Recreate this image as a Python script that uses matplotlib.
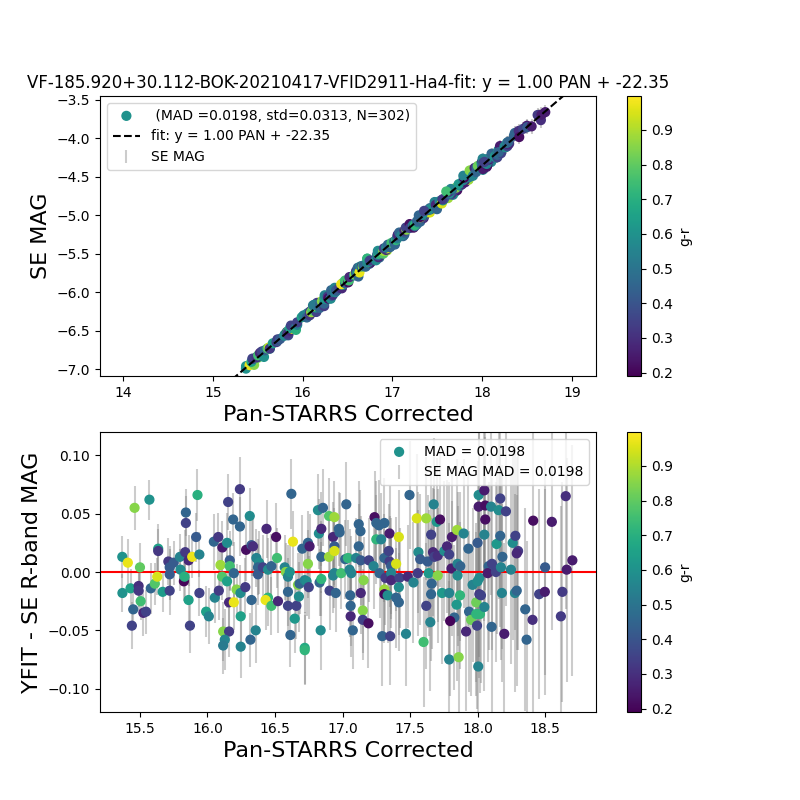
import numpy as np
import matplotlib
matplotlib.use('Agg')
import matplotlib.pyplot as plt

# Pan-STARRS corrected magnitudes (x)
pan = [
    15.369, 15.370, 15.410, 15.460, 15.430, 15.450, 15.440, 15.500, 15.490, 15.490,
    15.505, 15.525, 15.545, 15.570, 15.580, 15.610, 15.628, 15.635, 15.635, 15.668,
    15.710, 15.720, 15.720, 15.720, 15.750, 15.796, 15.800, 15.825, 15.830, 15.840,
    15.840, 15.835, 15.860, 15.887, 15.860, 15.870, 15.916, 15.926, 15.940, 15.940,
    15.990, 16.010,
    16.054, 16.047, 16.080, 16.110, 16.084, 16.096, 16.108, 16.145, 16.153, 16.165,
    16.165, 16.145, 16.160, 16.195, 16.116, 16.160, 16.128, 16.116, 16.190, 16.195,
    16.215, 16.240, 16.240, 16.244, 16.246, 16.246, 16.280, 16.286, 16.313, 16.326,
    16.337, 16.326, 16.318, 16.357, 16.362, 16.382, 16.374, 16.374, 16.410, 16.437,
    16.448, 16.448, 16.430, 16.473, 16.473, 16.508, 16.515, 16.522, 16.572, 16.580,
    16.596, 16.596, 16.596, 16.609, 16.621, 16.614, 16.633, 16.646, 16.658, 16.670,
    16.677, 16.682, 16.702, 16.720, 16.720, 16.720, 16.744, 16.744, 16.756, 16.734,
    16.750,
    16.818, 16.855, 16.825, 16.843, 16.843, 16.830, 16.843, 16.838, 16.900, 16.940,
    16.900, 16.930, 16.940, 16.940, 16.904, 16.930, 16.940, 16.950, 16.973, 16.978,
    16.990, 17.028, 17.020, 17.040, 17.052, 17.065, 17.057, 17.060, 17.060, 17.076,
    17.120, 17.133, 17.120, 17.100, 17.135, 17.135, 17.156, 17.150, 17.150, 17.192,
    17.195, 17.230, 17.237, 17.250, 17.270, 17.250, 17.286, 17.310, 17.348, 17.417,
    17.310, 17.342, 17.348, 17.360, 17.274, 17.318, 17.360, 17.360, 17.397, 17.422,
    17.310, 17.310, 17.334, 17.397, 17.417, 17.417, 17.294, 17.353, 17.470, 17.483,
    17.496,
    17.525, 17.550, 17.620, 17.675, 17.698, 17.722, 17.656, 17.562, 17.575, 17.557,
    17.630, 17.670, 17.680, 17.705, 17.638, 17.705, 17.660, 17.656, 17.620, 17.650,
    17.600, 17.754, 17.774, 17.790, 17.810, 17.848, 17.807, 17.852, 17.852, 17.872,
    17.737, 17.790, 17.870, 17.845, 17.828, 17.797, 17.790, 17.860, 17.897, 17.915,
    17.932, 17.937, 17.963, 17.990, 17.952, 17.990, 18.018, 17.996, 18.005, 18.000,
    18.013, 18.013, 18.000, 18.008, 18.008, 18.050, 18.057, 18.100, 18.057, 18.050,
    18.082, 18.075, 18.107, 18.136, 18.050, 18.025, 18.104, 18.141, 18.156, 18.168,
    18.168, 18.180, 18.173, 18.198, 18.210,
    18.184, 18.247, 18.260, 18.280, 18.300, 18.290, 18.277, 18.290, 18.353, 18.363,
    18.407, 18.412, 18.456, 18.498, 18.500, 18.550, 18.617, 18.628, 18.653, 18.660,
    18.702,
]

# YFIT - SE residuals
resid = [
    0.013, -0.018, 0.008, 0.055, -0.014, -0.032, -0.046, 0.004, -0.012, -0.016,
    -0.025, -0.035, -0.034, 0.062, -0.014, -0.010, -0.004, 0.020, 0.018, -0.017,
    0.009, 0.004, -0.002, -0.016, 0.008, 0.013, 0.002, -0.008, -0.004, 0.051,
    0.042, 0.017, 0.010, 0.013, -0.024, -0.046, 0.030, 0.066, 0.015, -0.018,
    -0.034, -0.038,
    -0.022, 0.026, 0.030, 0.021, -0.016, 0.006, -0.004, 0.025, 0.060, 0.010,
    0.005, -0.008, -0.026, -0.026, -0.051, -0.051, -0.058, -0.063, 0.045, -0.001,
    -0.015, 0.071, 0.039, -0.018, -0.038, -0.064, -0.013, 0.019, 0.048, 0.023,
    0.022, -0.024, -0.058, -0.050, 0.012, 0.008, 0.004, -0.002, 0.004, 0.037,
    0.002, -0.022, -0.024, 0.005, -0.029, 0.030, 0.012, -0.025, 0.004, 0.000,
    -0.004, -0.017, -0.029, 0.000, 0.067, -0.054, 0.026, -0.040, -0.029, -0.011,
    -0.021, -0.010, 0.020, -0.007, -0.065, -0.067, 0.025, 0.007, 0.022, -0.008,
    -0.013,
    0.053, 0.055, 0.033, 0.037, 0.013, -0.009, -0.006, -0.050, 0.048, 0.047,
    0.013, 0.030, 0.022, 0.018, -0.016, -0.003, -0.001, -0.018, 0.037, 0.034,
    -0.001, 0.058, 0.011, 0.012, 0.002, -0.001, -0.020, -0.029, -0.038, -0.050,
    0.041, 0.035, 0.022, 0.012, 0.010, -0.018, -0.007, -0.033, -0.041, -0.044,
    0.010, 0.005, 0.047, 0.042, 0.040, 0.028, 0.028, 0.042, 0.033, 0.030,
    0.012, 0.018, 0.009, 0.005, -0.001, -0.005, -0.001, -0.007, 0.007, -0.005,
    -0.015, -0.019, -0.020, -0.022, -0.026, -0.013, -0.055, -0.055, -0.053, -0.004,
    0.066,
    -0.009, 0.046, 0.046, 0.058, 0.043, 0.045, 0.032, 0.017, 0.011, -0.001,
    0.009, 0.017, 0.013, 0.014, -0.001, -0.003, -0.010, -0.019, -0.029, -0.043,
    -0.060, 0.018, 0.022, 0.015, 0.030, 0.036, 0.003, 0.007, -0.003, 0.005,
    -0.018, -0.018, -0.020, -0.028, -0.039, -0.042, -0.075, -0.073, 0.033, -0.051,
    0.020, -0.034, -0.011, -0.026, -0.041, -0.036, -0.036, -0.046, -0.081, -0.008,
    -0.005, -0.019, 0.025, 0.066, 0.056, 0.070, 0.057, 0.056, 0.045, 0.032,
    0.005, -0.001, 0.007, 0.000, -0.030, -0.020, -0.047, 0.024, 0.053, 0.063,
    0.031, -0.018, 0.004, -0.053, 0.052,
    0.013, 0.002, 0.025, 0.031, 0.018, 0.016, -0.018, -0.016, -0.032, -0.058,
    -0.041, 0.044, -0.019, -0.017, 0.004, 0.043, -0.038, -0.017, 0.065, 0.002,
    0.010,
]

# g-r colour of each star
g_r = [
    0.60, 0.60, 0.97, 0.85, 0.65, 0.45, 0.35, 0.80, 0.30, 0.32,
    0.75, 0.28, 0.35, 0.60, 0.45, 0.78, 0.95, 0.65, 0.32, 0.63,
    0.32, 0.42, 0.42, 0.35, 0.42, 0.55, 0.58, 0.20, 0.70, 0.45,
    0.35, 0.32, 0.28, 0.97, 0.65, 0.35, 0.42, 0.70, 0.55, 0.35,
    0.65, 0.55,
    0.55, 0.45, 0.32, 0.25, 0.33, 0.88, 0.78, 0.58, 0.35, 0.42,
    0.75, 0.65, 0.28, 0.97, 0.85, 0.33, 0.55, 0.52, 0.45, 0.45,
    0.85, 0.33, 0.45, 0.58, 0.65, 0.55, 0.33, 0.22, 0.58, 0.42,
    0.30, 0.45, 0.45, 0.55, 0.55, 0.58, 0.45, 0.42, 0.35, 0.28,
    0.58, 0.72, 0.97, 0.45, 0.75, 0.22, 0.75, 0.28, 0.55, 0.85,
    0.55, 0.45, 0.35, 0.60, 0.45, 0.45, 0.97, 0.62, 0.35, 0.85,
    0.58, 0.45, 0.45, 0.55, 0.68, 0.72, 0.45, 0.85, 0.25, 0.58,
    0.35,
    0.58, 0.45, 0.58, 0.28, 0.45, 0.45, 0.72, 0.58, 0.78, 0.88,
    0.88, 0.28, 0.42, 0.95, 0.35, 0.55, 0.55, 0.45, 0.45, 0.45,
    0.75, 0.45, 0.45, 0.72, 0.55, 0.55, 0.45, 0.45, 0.28, 0.45,
    0.45, 0.45, 0.45, 0.55, 0.42, 0.28, 0.85, 0.85, 0.35, 0.22,
    0.35, 0.55, 0.22, 0.45, 0.45, 0.72, 0.55, 0.45, 0.25, 0.95,
    0.45, 0.35, 0.33, 0.42, 0.45, 0.33, 0.55, 0.28, 0.95, 0.35,
    0.88, 0.20, 0.58, 0.45, 0.45, 0.58, 0.45, 0.35, 0.55, 0.28,
    0.45,
    0.55, 0.95, 0.88, 0.55, 0.62, 0.22, 0.35, 0.58, 0.42, 0.33,
    0.42, 0.28, 0.35, 0.30, 0.62, 0.85, 0.45, 0.45, 0.35, 0.55,
    0.75, 0.58, 0.28, 0.35, 0.25, 0.88, 0.25, 0.55, 0.58, 0.45,
    0.62, 0.55, 0.72, 0.62, 0.45, 0.20, 0.55, 0.85, 0.55, 0.28,
    0.45, 0.45, 0.55, 0.82, 0.82, 0.72, 0.72, 0.35, 0.55, 0.58,
    0.58, 0.33, 0.42, 0.58, 0.25, 0.25, 0.22, 0.55, 0.22, 0.55,
    0.45, 0.25, 0.35, 0.35, 0.55, 0.35, 0.45, 0.62, 0.58, 0.35,
    0.45, 0.55, 0.55, 0.25, 0.35,
    0.45, 0.55, 0.58, 0.35, 0.33, 0.28, 0.55, 0.45, 0.45, 0.45,
    0.30, 0.22, 0.35, 0.25, 0.42, 0.25, 0.33, 0.33, 0.30, 0.25,
    0.25,
]

# SE magnitude uncertainties
se_err = [
    0.018, 0.016, 0.020, 0.019, 0.017, 0.016, 0.020, 0.021, 0.018, 0.017,
    0.016, 0.020, 0.019, 0.017, 0.022, 0.018, 0.016, 0.021, 0.019, 0.017,
    0.020, 0.018, 0.022, 0.021, 0.019, 0.020, 0.018, 0.017, 0.021, 0.020,
    0.023, 0.019, 0.022, 0.018, 0.020, 0.023, 0.021, 0.022, 0.019, 0.020,
    0.022, 0.024,
    0.022, 0.024, 0.021, 0.023, 0.025, 0.022, 0.020, 0.026, 0.024, 0.025,
    0.021, 0.023, 0.026, 0.024, 0.025, 0.022, 0.026, 0.024, 0.023, 0.027,
    0.022, 0.028, 0.025, 0.024, 0.026, 0.027, 0.025, 0.027, 0.024, 0.026,
    0.025, 0.027, 0.023, 0.028, 0.025, 0.027, 0.024, 0.026, 0.028, 0.025,
    0.027, 0.024, 0.026, 0.028, 0.025, 0.029, 0.026, 0.027, 0.028, 0.025,
    0.027, 0.029, 0.026, 0.028, 0.030, 0.027, 0.026, 0.029, 0.028, 0.027,
    0.030, 0.026, 0.029, 0.028, 0.031, 0.030, 0.027, 0.029, 0.028, 0.030,
    0.027,
    0.031, 0.033, 0.030, 0.032, 0.031, 0.029, 0.032, 0.034, 0.033, 0.031,
    0.032, 0.030, 0.033, 0.031, 0.034, 0.032, 0.030, 0.033, 0.032, 0.034,
    0.031, 0.036, 0.034, 0.033, 0.035, 0.032, 0.036, 0.034, 0.035, 0.033,
    0.037, 0.035, 0.036, 0.034, 0.038, 0.035, 0.037, 0.036, 0.034, 0.038,
    0.036, 0.037, 0.040, 0.036, 0.039, 0.038, 0.040, 0.039, 0.041, 0.040,
    0.038, 0.040, 0.039, 0.041, 0.038, 0.040, 0.039, 0.041, 0.040, 0.043,
    0.039, 0.042, 0.041, 0.043, 0.042, 0.041, 0.043, 0.042, 0.045, 0.044,
    0.046,
    0.052, 0.055, 0.053, 0.057, 0.055, 0.058, 0.054, 0.052, 0.056, 0.054,
    0.057, 0.055, 0.058, 0.057, 0.054, 0.058, 0.056, 0.057, 0.054, 0.059,
    0.056, 0.060, 0.057, 0.062, 0.059, 0.061, 0.058, 0.062, 0.060, 0.064,
    0.061, 0.060, 0.063, 0.065, 0.062, 0.064, 0.067, 0.066, 0.064, 0.068,
    0.066, 0.069, 0.066, 0.068, 0.065, 0.070, 0.068, 0.071, 0.073, 0.070,
    0.068, 0.072, 0.070, 0.073, 0.071, 0.074, 0.072, 0.076, 0.071, 0.074,
    0.072, 0.076, 0.074, 0.077, 0.072, 0.075, 0.074, 0.077, 0.076, 0.079,
    0.078, 0.076, 0.079, 0.078, 0.081,
    0.079, 0.081, 0.083, 0.081, 0.085, 0.083, 0.085, 0.082, 0.087, 0.085,
    0.089, 0.087, 0.090, 0.088, 0.092, 0.093, 0.095, 0.094, 0.097, 0.096,
    0.099,
]

slope = 1.00
zp = -22.35
mad = 0.0198
std = 0.0313
nstars = 302
title = 'VF-185.920+30.112-BOK-20210417-VFID2911-Ha4-fit: y = 1.00 PAN + -22.35'

pan = np.array(pan)
resid = np.array(resid)
g_r = np.array(g_r)
se_err = np.array(se_err)
yfit = slope * pan + zp
se_mag = yfit - resid

vmin, vmax = 0.19, 0.998

plt.figure(figsize=(8, 8))

# top panel: SE mag vs Pan-STARRS
plt.subplot(2, 1, 1)
sc = plt.scatter(pan, se_mag, c=g_r, s=40, cmap='viridis', vmin=vmin, vmax=vmax,
                 label=' (MAD ={:.4f}, std={:.4f}, N={})'.format(mad, std, nstars), zorder=3)
xl = np.linspace(14, 19, 100)
plt.plot(xl, slope * xl + zp, 'k--', label='fit: y = {:.2f} PAN + {:.2f}'.format(slope, zp), zorder=4)
plt.errorbar(pan, se_mag, yerr=se_err, fmt='none', ecolor='0.5', alpha=0.4, label='SE MAG', zorder=1)
plt.xlim(13.744, 19.267)
plt.ylim(-7.09, -3.448)
plt.title(title, fontsize=12)
plt.xlabel('Pan-STARRS Corrected', fontsize=16)
plt.ylabel('SE MAG', fontsize=16)
plt.legend(loc='upper left')
plt.colorbar(sc, label='g-r')

# bottom panel: residuals
plt.subplot(2, 1, 2)
sc2 = plt.scatter(pan, resid, c=g_r, s=40, cmap='viridis', vmin=vmin, vmax=vmax,
                  label='MAD = {:.4f}'.format(mad), zorder=3)
plt.errorbar(pan, resid, yerr=se_err, fmt='none', ecolor='0.5', alpha=0.4,
             label='SE MAG MAD = {:.4f}'.format(mad), zorder=1)
plt.axhline(0, color='r', zorder=2)
plt.xlim(15.204, 18.877)
plt.ylim(-0.12, 0.12)
plt.xlabel('Pan-STARRS Corrected', fontsize=16)
plt.ylabel('YFIT - SE R-band MAG', fontsize=16)
plt.legend(loc='upper right')
plt.colorbar(sc2, label='g-r')

plt.savefig('out.png', dpi=100)
